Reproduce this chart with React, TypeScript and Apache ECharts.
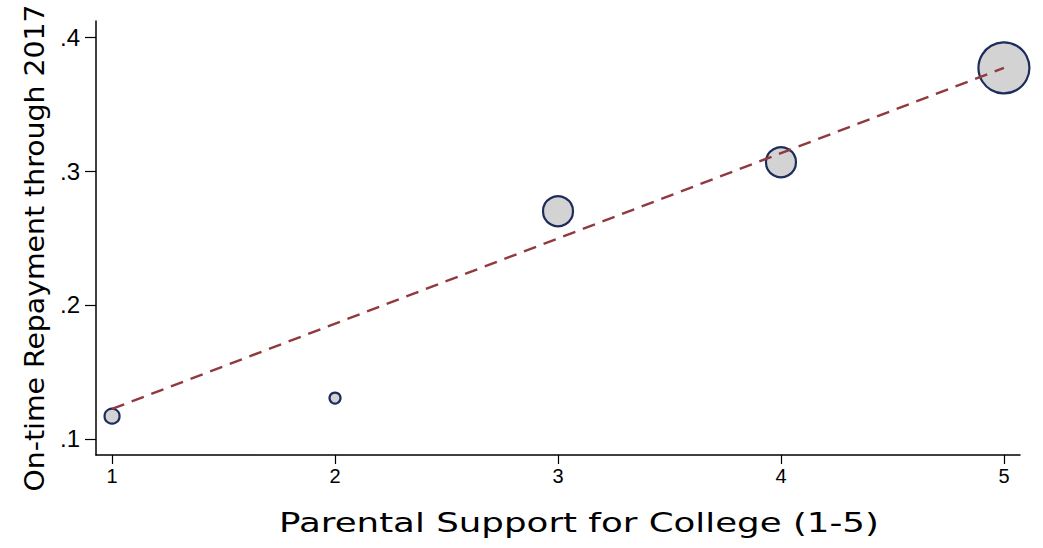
import React, { useEffect, useRef } from "react";
import * as echarts from "echarts";

// Binned means of on-time repayment by parental support level
const supportLevels = [1, 2, 3, 4, 5];
const repaymentRate = [0.117, 0.1305, 0.27, 0.3065, 0.377];
// Marker diameters (scaled by number of borrowers in each bin)
const markerSize = [15, 11, 30, 30, 51];

// Linear fit endpoints
const fitX = [1, 5];
const fitY = [0.1224, 0.377];

const xTicks = [1, 2, 3, 4, 5];
const yTicks = [0.1, 0.2, 0.3, 0.4];

const xTitle = "Parental Support for College (1-5)";
const yTitle = "On-time Repayment through 2017";

export default function App() {
  const ref = useRef<HTMLDivElement>(null);

  useEffect(() => {
    if (!ref.current) return;
    const chart = echarts.init(ref.current, undefined, { renderer: "svg" });
    const titleFont = "DejaVu Sans";
    chart.setOption({
      animation: false,
      backgroundColor: "#ffffff",
      grid: { left: 96, right: 23, top: 21, bottom: 93, containLabel: false },
      xAxis: {
        type: "value",
        min: 0.928,
        max: 5.072,
        axisLine: { show: true, onZero: false, lineStyle: { color: "#000", width: 1.5 } },
        axisTick: { show: true, customValues: xTicks, length: 9, lineStyle: { color: "#000", width: 1.2 } },
        axisLabel: {
          customValues: xTicks,
          color: "#000",
          fontFamily: "Liberation Sans",
          fontSize: 20,
          margin: 11,
          formatter: (v: number) => String(v),
        },
        splitLine: { show: false },
      },
      yAxis: {
        type: "value",
        min: 0.088,
        max: 0.412,
        axisLine: { show: true, onZero: false, lineStyle: { color: "#000", width: 1.5 } },
        axisTick: { show: true, customValues: yTicks, length: 11, lineStyle: { color: "#000", width: 1.2 } },
        axisLabel: {
          customValues: yTicks,
          color: "#000",
          fontFamily: "Liberation Sans",
          fontSize: 24,
          margin: 16,
          formatter: (v: number) => "." + Math.round(v * 10),
        },
        splitLine: { show: false },
      },
      graphic: [
        {
          type: "text",
          x: 579,
          y: 523,
          scaleX: 1.32,
          style: {
            text: xTitle,
            fontFamily: titleFont,
            fontSize: 27,
            fill: "#000",
            textAlign: "center",
            textVerticalAlign: "middle",
          },
        },
        {
          type: "text",
          x: 35,
          y: 248,
          rotation: Math.PI / 2,
          scaleX: 1.05,
          style: {
            text: yTitle,
            fontFamily: titleFont,
            fontSize: 27,
            fill: "#000",
            textAlign: "center",
            textVerticalAlign: "middle",
          },
        },
      ],
      series: [
        {
          type: "scatter",
          data: supportLevels.map((x, i) => ({
            value: [x, repaymentRate[i]],
            symbolSize: markerSize[i],
          })),
          itemStyle: { color: "#d3d3d3", borderColor: "#1c2c5b", borderWidth: 2.2, opacity: 1 },
          z: 2,
        },
        {
          type: "line",
          data: fitX.map((x, i) => [x, fitY[i]]),
          showSymbol: false,
          symbol: "none",
          lineStyle: { color: "#903a40", width: 2.4, type: [13, 8] },
          z: 3,
        },
      ],
    });
    return () => chart.dispose();
  }, []);

  return <div ref={ref} style={{ width: 1043, height: 548, position: "absolute", left: 0, top: 0 }} />;
}
